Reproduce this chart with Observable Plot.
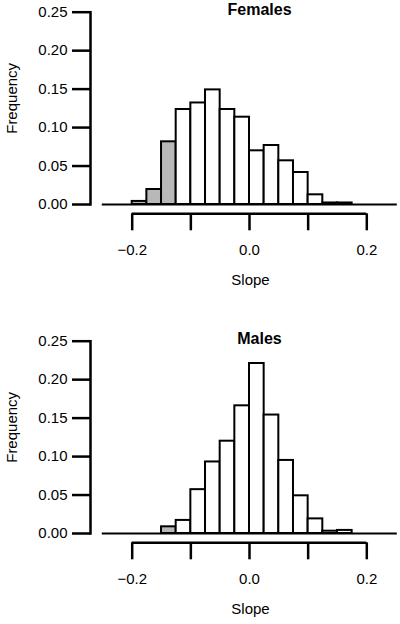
<!DOCTYPE html>
<html><head><meta charset="utf-8">
<script src="https://cdn.jsdelivr.net/npm/d3@7"></script>
<script src="https://cdn.jsdelivr.net/npm/@observablehq/plot@0.6"></script>
<style>
body{margin:0;background:#fff;}
#wrap{position:relative;width:400px;height:624px;overflow:hidden;}
#wrap svg{position:absolute;left:0;}
</style></head><body><div id="wrap"></div>
<script>
// ---- data ----
const binWidth = 0.025;
const femaleStart = -0.2;
const femaleFreq = [0.004, 0.0195, 0.0815, 0.1235, 0.132, 0.149, 0.1235, 0.1135, 0.0698, 0.0767, 0.0568, 0.0416, 0.0126, 0.002, 0.002];
const maleStart = -0.15;
const maleFreq = [0.0087, 0.017, 0.057, 0.093, 0.120, 0.166, 0.221, 0.154, 0.095, 0.049, 0.019, 0.003, 0.004];
const shadeBelow = -0.125;
const titles = ["Females", "Males"];
const xTicks = [-0.2, -0.1, 0, 0.1, 0.2];
const xLabelled = [-0.2, 0, 0.2];
const yTicks = [0, 0.05, 0.1, 0.15, 0.2, 0.25];
const baselineRange = [-0.251, 0.252];
const xLabel = "Slope";
const yLabel = "Frequency";

const panels = [
  {title: titles[0], start: femaleStart, freq: femaleFreq},
  {title: titles[1], start: maleStart, freq: maleFreq}
];
const offsets = [0, 329];
const font = "'Liberation Sans', Arial, Helvetica, sans-serif";

function panel(p) {
  const bins = p.freq.map((f, i) => ({x1: p.start + i * binWidth, x2: p.start + (i + 1) * binWidth, f}));
  return Plot.plot({
    width: 400, height: 294,
    marginLeft: 90, marginRight: 10, marginTop: 11.7, marginBottom: 90,
    style: {fontFamily: font, fontSize: "15px", color: "black", background: "white"},
    x: {domain: [xTicks[0], xTicks[xTicks.length - 1]], range: [131.7, 366.3]},
    y: {domain: [yTicks[0], yTicks[yTicks.length - 1]]},
    marks: [
      Plot.rectY(bins, {x1: "x1", x2: "x2", y: "f",
        fill: d => d.x2 <= shadeBelow + 1e-9 ? "#b8b8b8" : "white",
        stroke: "black", strokeWidth: 2}),
      Plot.ruleY([0], {x1: baselineRange[0], x2: baselineRange[1], stroke: "black", strokeWidth: 2}),
      Plot.frame({anchor: "left", stroke: "black", strokeWidth: 2.5}),
      Plot.axisY({ticks: yTicks, tickSize: 18, tickPadding: 5, strokeWidth: 2.5,
        tickFormat: d3.format(".2f"), label: null, fontSize: 15}),
      Plot.ruleY([0], {x1: xTicks[0], x2: xTicks[xTicks.length - 1], dy: 9.3, stroke: "black", strokeWidth: 2.5}),
      Plot.axisX({ticks: xTicks, tickSize: 17, tickPadding: 14, dy: 9.3, strokeWidth: 2.5, fontSize: 15,
        tickFormat: d => xLabelled.some(v => Math.abs(v - d) < 1e-9) ? d3.format(".1f")(d) : "", label: null}),
      Plot.text([p.title], {frameAnchor: "top", dx: 19, dy: -2, fontWeight: "bold", fontSize: 16, lineAnchor: "middle"}),
      Plot.text([xLabel], {frameAnchor: "bottom", dx: 10, dy: 76, fontSize: 15, lineAnchor: "middle"}),
      Plot.text([yLabel], {frameAnchor: "left", dx: -78, dy: -10, rotate: -90, fontSize: 15, textAnchor: "middle", lineAnchor: "middle"})
    ]
  });
}

const wrap = document.getElementById("wrap");
panels.forEach((p, i) => {
  const svg = panel(p);
  svg.style.top = offsets[i] + "px";
  wrap.appendChild(svg);
});
</script>
</body></html>
